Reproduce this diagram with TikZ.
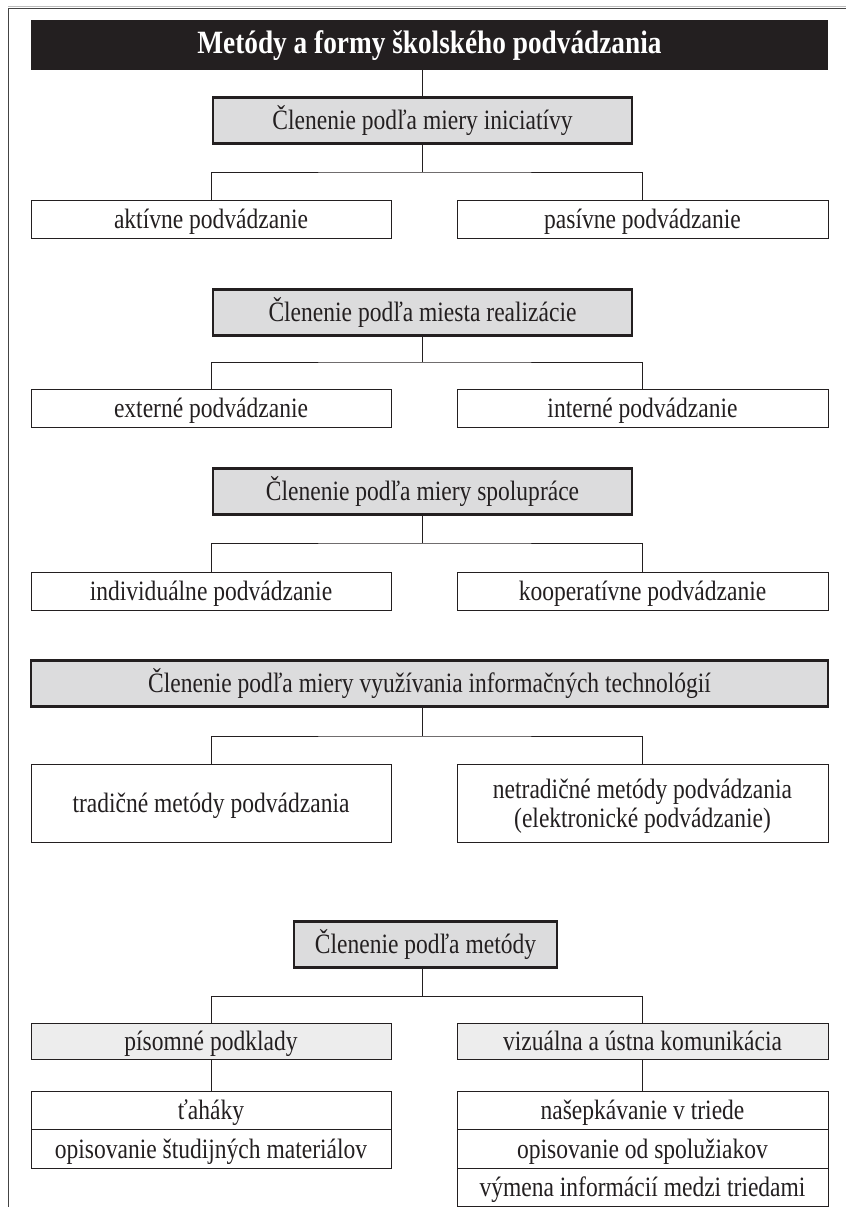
\documentclass[tikz,border=0pt]{standalone}
\usepackage{fontspec}
\setmainfont{Liberation Serif}[FakeStretch=0.84]
\definecolor{ink}{HTML}{231F20}
\definecolor{boxgray}{HTML}{DCDCDD}
\definecolor{subgray}{HTML}{EDEDED}
\definecolor{framegray}{HTML}{444444}
\begin{document}
\begin{tikzpicture}[x=1pt,y=-1pt,
  every node/.style={inner sep=0pt,outer sep=0pt,align=center,font=\fontsize{28}{29}\selectfont,text=ink},
  tx/.style={text height=21.5pt,text depth=3pt},
  titlebar/.style={fill=ink,minimum width=797pt,minimum height=50pt,text=white,font=\fontsize{32.5}{36}\selectfont\bfseries,text height=23pt,text depth=6pt},
  gbox/.style={tx,draw=ink,line width=2.4pt,fill=boxgray,minimum height=46pt},
  wb/.style={draw=ink,line width=1pt,fill=white,minimum width=360pt},
  wbox/.style={wb,tx},
  sbox/.style={tx,draw=ink,line width=1pt,fill=subgray,minimum width=360pt,minimum height=36pt},
  conn/.style={draw=ink,line width=1pt}]
\useasboundingbox (0,0) rectangle (846,1207);
% frame
\draw[framegray!35,line width=1pt] (8,6.5) -- (846,6.5);
\draw[framegray,line width=1.8pt] (8.5,8.5) -- (846,8.5);
\draw[framegray,line width=1.8pt] (8.5,8.5) -- (8.5,1207);
% title
\node[titlebar] (t) at (429.5,45) {Metódy a formy školského podvádzania};
% section 1
\node[gbox,minimum width=419pt] (g1) at (422.5,120.5) {Členenie podľa miery iniciatívy};
\node[wbox,minimum height=38pt] (l1) at (211,219) {aktívne podvádzanie};
\node[wbox,minimum width=371pt,minimum height=38pt] (r1) at (642.5,219) {pasívne podvádzanie};
\coordinate (h1) at (422.5,172);
\draw[conn] (t.south -| g1.north) -- (g1.north);
\draw[conn] (g1.south) -- (h1);
\draw[conn] (l1.north) |- (h1) -| (r1.north);
% section 2
\node[gbox,minimum width=419pt] (g2) at (422.5,312.5) {Členenie podľa miesta realizácie};
\node[wbox,minimum height=38pt] (l2) at (211,408) {externé podvádzanie};
\node[wbox,minimum width=371pt,minimum height=38pt] (r2) at (642.5,408) {interné podvádzanie};
\coordinate (h2) at (422.5,362);
\draw[conn] (g2.south) -- (h2);
\draw[conn] (l2.north) |- (h2) -| (r2.north);
% section 3
\node[gbox,minimum width=419pt] (g3) at (422.5,491.5) {Členenie podľa miery spolupráce};
\node[wbox,minimum height=38pt] (l3) at (211,591) {individuálne podvádzanie};
\node[wbox,minimum width=371pt,minimum height=38pt] (r3) at (642.5,591) {kooperatívne podvádzanie};
\coordinate (h3) at (422.5,543);
\draw[conn] (g3.south) -- (h3);
\draw[conn] (l3.north) |- (h3) -| (r3.north);
% section 4
\node[gbox,minimum width=797pt] (g4) at (429.5,683.5) {Členenie podľa miery využívania informačných technológií};
\node[wbox,minimum height=78pt] (l4) at (211,803) {tradičné metódy podvádzania};
\node[wb,minimum width=371pt,minimum height=78pt] (r4) at (642.5,803) {};
\node (r4t) at ([yshift=-3pt]r4.center) {netradičné metódy podvádzania\\(elektronické podvádzanie)};
\coordinate (h4) at (422.5,736);
\draw[conn] (g4.south -| h4) -- (h4);
\draw[conn] (l4.north) |- (h4) -| (r4.north);
% section 5
\node[gbox,minimum width=263pt] (g5) at (425.5,944.5) {Členenie podľa metódy};
\node[sbox] (l5) at (211,1041) {písomné podklady};
\node[sbox,minimum width=371pt] (r5) at (642.5,1041) {vizuálna a ústna komunikácia};
\coordinate (h5) at (422.5,996);
\draw[conn] (g5.south -| h5) -- (h5);
\draw[conn] (l5.north) |- (h5) -| (r5.north);
% lists
\node[wbox,minimum height=38.5pt] (la) at (211,1110.25) {ťaháky};
\node[wbox,minimum height=38.5pt] (lb) at (211,1148.75) {opisovanie študijných materiálov};
\node[wbox,minimum width=371pt,minimum height=38.5pt] (ra) at (642.5,1110.25) {našepkávanie v triede};
\node[wbox,minimum width=371pt,minimum height=38.5pt] (rb) at (642.5,1148.75) {opisovanie od spolužiakov};
\node[wbox,minimum width=371pt,minimum height=38.5pt] (rc) at (642.5,1187.25) {výmena informácií medzi triedami};
\draw[conn] (l5.south) -- (la.north);
\draw[conn] (r5.south) -- (ra.north);
\end{tikzpicture}
\end{document}
